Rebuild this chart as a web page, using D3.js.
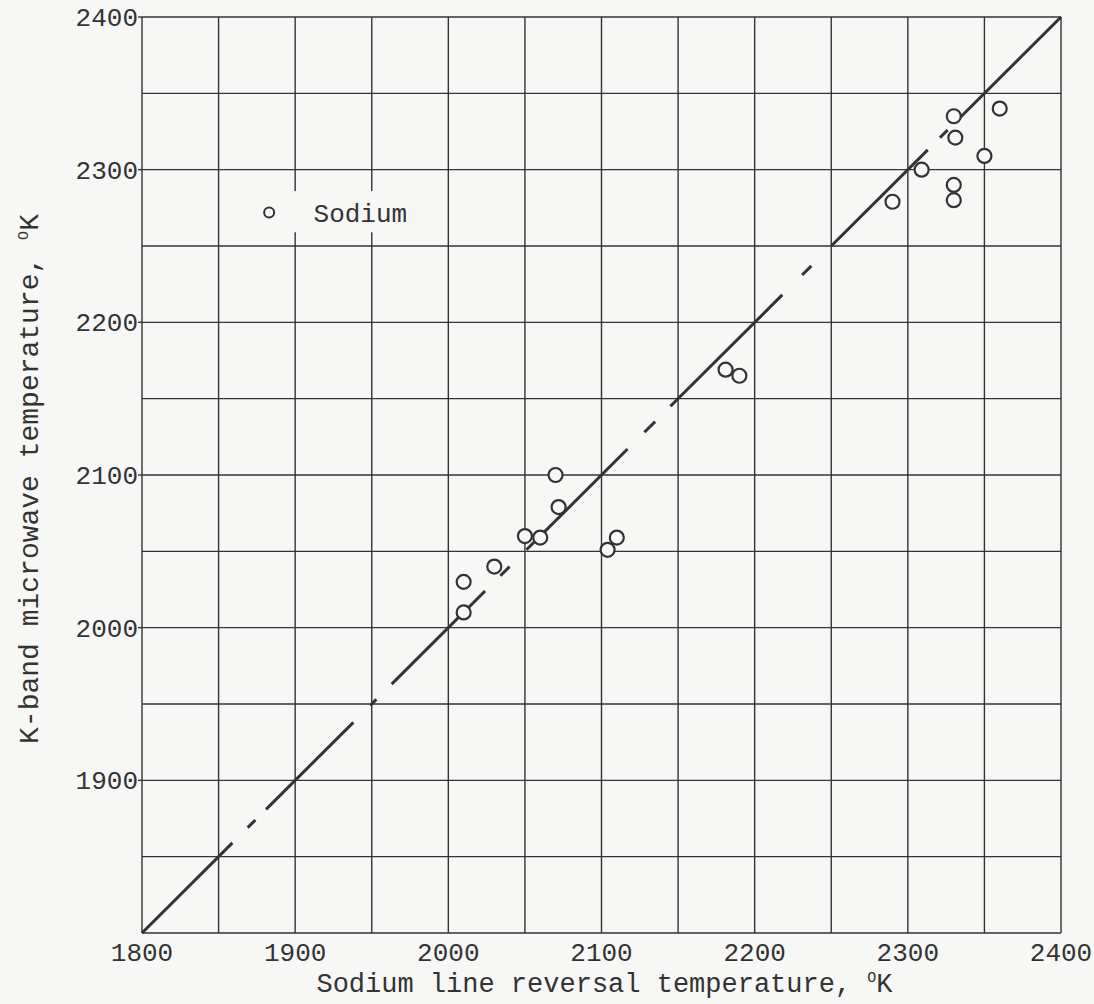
<!DOCTYPE html>
<html>
<head>
<meta charset="utf-8">
<script src="https://cdn.jsdelivr.net/npm/d3@7"></script>
<style>
  html, body { margin: 0; padding: 0; background: #f7f7f5; }
  svg { display: block; }
  text { font-family: "Liberation Mono", "DejaVu Sans Mono", monospace; fill: #333; }
</style>
</head>
<body>
<script>
// ---- data ----
const xTickLabels = [1800, 1900, 2000, 2100, 2200, 2300, 2400];
const yTickLabels = [1900, 2000, 2100, 2200, 2300, 2400];
const gridValues = [1800, 1850, 1900, 1950, 2000, 2050, 2100, 2150, 2200, 2250, 2300, 2350, 2400];

const sodiumLineReversal = [2010, 2010, 2030, 2050, 2060, 2070, 2072, 2104, 2110, 2181, 2190, 2290, 2309, 2330, 2331, 2330, 2330, 2350, 2360];
const kBandMicrowave     = [2030, 2010, 2040, 2060, 2059, 2100, 2079, 2051, 2059, 2169, 2165, 2279, 2300, 2335, 2321, 2290, 2280, 2309, 2340];

// y = x reference line, drawn as long-dash / short-dash pieces (x extents, data units)
const lineLongDashStart  = [1800, 1881, 1963, 2051, 2145, 2250, 2334];
const lineLongDashEnd    = [1859, 1938, 2024, 2117, 2218, 2313, 2400];
const lineShortDashStart = [1869, 1949, 2034, 2128, 2231, 2321];
const lineShortDashEnd   = [1874, 1953, 2040, 2135, 2237, 2326];

const legendLabel = "Sodium";
const xTitle = "Sodium line reversal temperature, ";
const yTitle = "K-band microwave temperature, ";

// ---- layout ----
const W = 1094, H = 1004;
const margin = {left: 142, top: 17, right: 33, bottom: 71};
const ink = "#333";
const bg = "#f7f7f5";

const svg = d3.select("body").append("svg").attr("width", W).attr("height", H);
svg.append("rect").attr("width", W).attr("height", H).attr("fill", bg);

const x = d3.scaleLinear().domain([1800, 2400]).range([margin.left, W - margin.right]);
const y = d3.scaleLinear().domain([1800, 2400]).range([H - margin.bottom, margin.top]);

// grid
const grid = svg.append("g").attr("stroke", ink).attr("stroke-width", 1.4);
grid.selectAll("line.v").data(gridValues).join("line")
  .attr("x1", d => x(d)).attr("x2", d => x(d))
  .attr("y1", y(1800)).attr("y2", y(2400));
grid.selectAll("line.h").data(gridValues).join("line")
  .attr("class", "h")
  .attr("y1", d => y(d)).attr("y2", d => y(d))
  .attr("x1", x(1800)).attr("x2", x(2400));

// y tick stubs
svg.append("g").selectAll("line").data(yTickLabels).join("line")
  .attr("x1", x(1800) - 4).attr("x2", x(1800))
  .attr("y1", d => y(d)).attr("y2", d => y(d))
  .attr("stroke", ink).attr("stroke-width", 1.4);

// legend box (interrupts grid)
const lg = svg.append("g");
lg.append("rect")
  .attr("x", x(1861)).attr("y", y(2286))
  .attr("width", x(1985) - x(1861)).attr("height", y(2259) - y(2286))
  .attr("fill", bg);
lg.append("circle")
  .attr("cx", x(1883)).attr("cy", y(2272))
  .attr("r", 5).attr("fill", "none").attr("stroke", ink).attr("stroke-width", 2);
lg.append("text")
  .attr("x", x(1912)).attr("y", y(2272))
  .attr("dy", "0.35em").attr("font-size", 26)
  .text(legendLabel);

// reference line y = x
const lineG = svg.append("g").attr("stroke", ink).attr("stroke-width", 3).attr("stroke-linecap", "butt");
const longDashes = lineLongDashStart.map((s, i) => [s, lineLongDashEnd[i]]);
const shortDashes = lineShortDashStart.map((s, i) => [s, lineShortDashEnd[i]]);
lineG.selectAll("line.long").data(longDashes).join("line")
  .attr("x1", d => x(d[0])).attr("y1", d => y(d[0]))
  .attr("x2", d => x(d[1])).attr("y2", d => y(d[1]));
lineG.selectAll("line.short").data(shortDashes).join("line")
  .attr("class", "short")
  .attr("x1", d => x(d[0])).attr("y1", d => y(d[0]))
  .attr("x2", d => x(d[1])).attr("y2", d => y(d[1]));

// points
const pts = sodiumLineReversal.map((v, i) => ({x: v, y: kBandMicrowave[i]}));
svg.append("g").selectAll("circle").data(pts).join("circle")
  .attr("cx", d => x(d.x)).attr("cy", d => y(d.y))
  .attr("r", 7).attr("fill", bg).attr("stroke", ink).attr("stroke-width", 2.2);

// tick labels
svg.append("g").selectAll("text").data(xTickLabels).join("text")
  .attr("x", d => x(d)).attr("y", H - margin.bottom + 28)
  .attr("text-anchor", "middle").attr("font-size", 26)
  .text(d => d);
svg.append("g").selectAll("text").data(yTickLabels).join("text")
  .attr("x", x(1800) - 4).attr("y", d => y(d))
  .attr("dy", "0.35em")
  .attr("text-anchor", "end").attr("font-size", 26)
  .text(d => d);

// axis titles
const xt = svg.append("text")
  .attr("x", (x(1800) + x(2400)) / 2 + 3).attr("y", 992)
  .attr("text-anchor", "middle").attr("font-size", 27);
xt.append("tspan").text(xTitle);
xt.append("tspan").attr("font-size", 15).attr("dy", -10).text("O");
xt.append("tspan").attr("dy", 10).text("K");

const yt = svg.append("text")
  .attr("transform", `translate(38, ${(y(1800) + y(2400)) / 2 + 4}) rotate(-90)`)
  .attr("text-anchor", "middle").attr("font-size", 28);
yt.append("tspan").text(yTitle);
yt.append("tspan").attr("font-size", 15).attr("dy", -10).text("O");
yt.append("tspan").attr("dy", 10).text("K");
</script>
</body>
</html>
